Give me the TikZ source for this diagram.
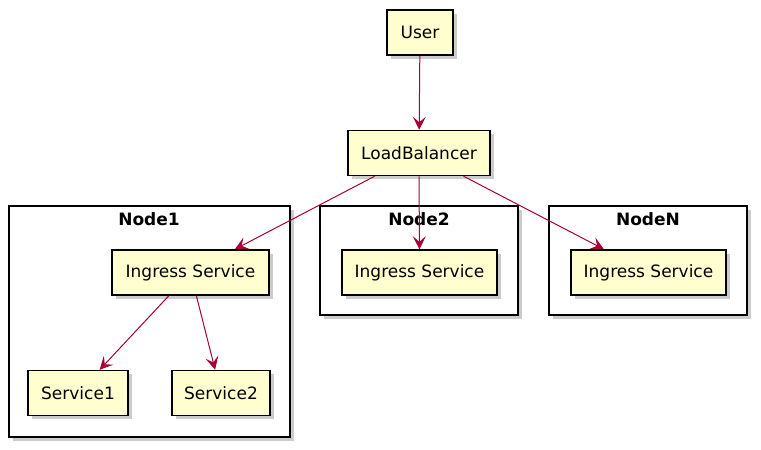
\documentclass[tikz,border=0pt]{standalone}
\usepackage{fontspec}
\setmainfont{DejaVu Sans}
\usetikzlibrary{arrows.meta}
\usetikzlibrary{shadows}
\definecolor{boxfill}{HTML}{FEFECE}
\definecolor{edgered}{HTML}{A80036}
\begin{document}
\begin{tikzpicture}[x=1pt, y=-1pt]
\tikzstyle{comp}=[draw, line width=1.5pt, fill=boxfill, minimum height=45pt, inner sep=0pt,
  font=\fontsize{17}{20}\selectfont, drop shadow={shadow xshift=3.5pt, shadow yshift=-3.5pt, fill=black!40}]
\tikzstyle{frm}=[draw, line width=1.5pt, fill=white, inner sep=0pt,
  drop shadow={shadow xshift=3.5pt, shadow yshift=-3.5pt, fill=black!40}]
\tikzstyle{ttl}=[font=\fontsize{17}{20}\selectfont\bfseries, inner sep=0pt]
\tikzstyle{lnk}=[draw=edgered, line width=1pt, -{Stealth[length=13pt, width=13pt, inset=5.5pt, line width=1pt, fill=edgered]}]
\useasboundingbox (0,0) rectangle (761,450);
% frames
\node[frm, minimum width=281pt, minimum height=231pt] (N1) at (149.5,321.5) {};
\node[frm, minimum width=198pt, minimum height=109pt] (N2) at (419,260.5) {};
\node[frm, minimum width=198pt, minimum height=109pt] (NN) at (648,260.5) {};
\node[ttl] (t1) at (149,219) {Node1};
\node[ttl] (t2) at (419,219) {Node2};
\node[ttl] (tN) at (648,219) {NodeN};
% components
\node[comp, minimum width=66pt] (User) at (420,32.5) {User};
\node[comp, minimum width=142pt] (LB) at (419,153) {LoadBalancer};
\node[comp, minimum width=157pt] (I1) at (190.5,272.5) {Ingress Service};
\node[comp, minimum width=155pt] (I2) at (419.5,272.5) {Ingress Service};
\node[comp, minimum width=155pt] (IN) at (648.5,272.5) {Ingress Service};
\node[comp, minimum width=100pt] (S1) at (78,393) {Service1};
\node[comp, minimum width=98pt] (S2) at (221,393) {Service2};
\foreach \i/\j in {User/LB, LB/I1, LB/I2, LB/IN, I1/S1, I1/S2}{
\draw[lnk] (\i) -- (\j);}
\end{tikzpicture}
\end{document}
